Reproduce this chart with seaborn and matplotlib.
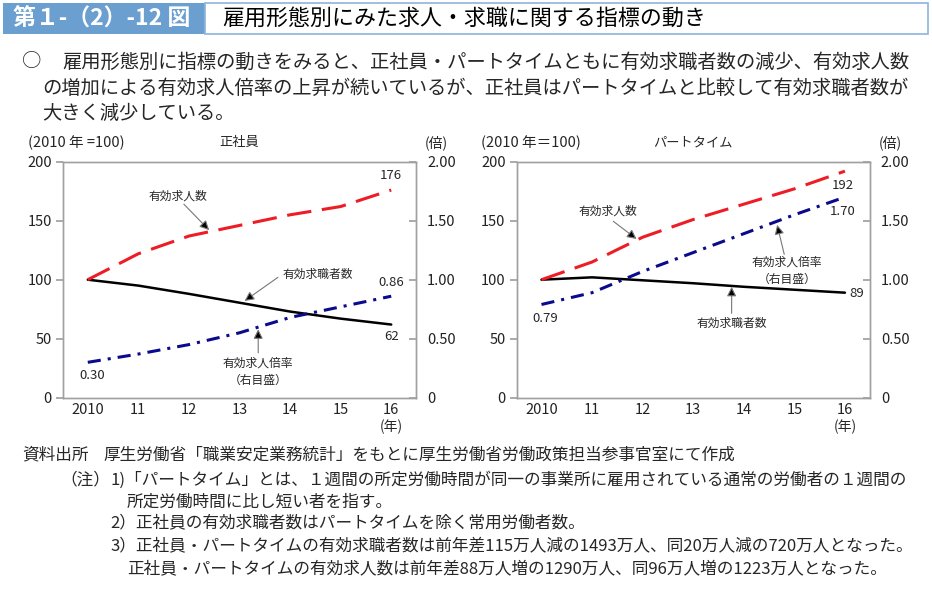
import numpy as np
import pandas as pd
import matplotlib
matplotlib.use("Agg")
import matplotlib.pyplot as plt
import seaborn as sns
from matplotlib.patches import Rectangle

# ---------------- data ----------------
years = [2010, 2011, 2012, 2013, 2014, 2015, 2016]
year_labels = ["2010", "11", "12", "13", "14", "15", "16"]
reg_openings = [100, 122, 137, 146, 155, 162, 176]
reg_seekers = [100, 95, 88, 80.5, 73, 67, 62]
reg_ratio = [0.30, 0.37, 0.45, 0.55, 0.68, 0.77, 0.86]
part_openings = [100, 115, 136, 151, 164, 177, 192]
part_seekers = [100, 102, 99.5, 97, 94, 91.5, 89]
part_ratio = [0.79, 0.89, 1.07, 1.23, 1.39, 1.55, 1.70]
left_ticks = [0, 50, 100, 150, 200]
right_ticks = [0, 0.5, 1.0, 1.5, 2.0]
right_ticklabels = ["0", "0.50", "1.00", "1.50", "2.00"]

RED = "#ee1c25"
BLUE = "#0a0a8c"
GREY = "#a0a0a0"

sns.set_theme(style="ticks")
plt.rcParams['font.family'] = ['Noto Sans CJK JP', 'DejaVu Sans']

W, H = 932, 595
fig = plt.figure(figsize=(W / 100, H / 100), dpi=100)
fig.patch.set_facecolor("white")

# overlay for header / text
ov = fig.add_axes([0, 0, 1, 1])
ov.set_xlim(0, W)
ov.set_ylim(H, 0)
ov.axis("off")

ov.add_patch(Rectangle((3, 3), 202, 31, fc="#6a9fd0", ec="none"))
ov.add_patch(Rectangle((205, 3), 723, 31, fc="white", ec="#8db4dd", lw=1.2))
ov.text(102, 19, "第１-（2）-12 図", color="white", fontsize=16.5, fontweight="bold",
        ha="center", va="center")
ov.text(222, 19, "雇用形態別にみた求人・求職に関する指標の動き", color="black",
        fontsize=15.8, ha="left", va="center")

ov.text(22, 62, "○", fontsize=13.9, ha="left", va="center")
ov.text(62, 62, "雇用形態別に指標の動きをみると、正社員・パートタイムともに有効求職者数の減少、有効求人数",
        fontsize=13.9, ha="left", va="center")
ov.text(42, 88, "の増加による有効求人倍率の上昇が続いているが、正社員はパートタイムと比較して有効求職者数が",
        fontsize=13.9, ha="left", va="center")
ov.text(42, 113, "大きく減少している。", fontsize=13.9, ha="left", va="center")

NFS = 12
ov.text(22, 455, "資料出所", fontsize=NFS, ha="left", va="center")
ov.text(103, 455, "厚生労働省「職業安定業務統計」をもとに厚生労働省労働政策担当参事官室にて作成",
        fontsize=NFS, ha="left", va="center")
ov.text(60, 480, "（注）", fontsize=NFS, ha="left", va="center")
ov.text(110, 480, "1)「パートタイム」とは、１週間の所定労働時間が同一の事業所に雇用されている通常の労働者の１週間の",
        fontsize=NFS, ha="left", va="center")
ov.text(127, 502, "所定労働時間に比し短い者を指す。", fontsize=NFS, ha="left", va="center")
ov.text(110, 524, "2）正社員の有効求職者数はパートタイムを除く常用労働者数。", fontsize=NFS, ha="left", va="center")
ov.text(110, 547, "3）正社員・パートタイムの有効求職者数は前年差115万人減の1493万人、同20万人減の720万人となった。",
        fontsize=NFS, ha="left", va="center")
ov.text(127, 570, "正社員・パートタイムの有効求人数は前年差88万人増の1290万人、同96万人増の1223万人となった。",
        fontsize=NFS, ha="left", va="center")


def arrow(ax, tail, head):
    ax.annotate("", xy=head, xytext=tail,
                arrowprops=dict(arrowstyle="-|>", ec="#777777", fc="black", lw=0.8,
                                mutation_scale=14, shrinkA=0, shrinkB=0), zorder=6)


def panel(left_px, openings, seekers, ratio, title, unit_label):
    ax = fig.add_axes([left_px / W, 1 - 397.7 / H, 353 / W, 236 / H])
    ax2 = ax.twinx()
    df = pd.DataFrame({"year": years, "openings": openings,
                       "seekers": seekers, "ratio": ratio})
    sns.lineplot(data=df, x="year", y="seekers", ax=ax, color="black", lw=1.8)
    sns.lineplot(data=df, x="year", y="openings", ax=ax, color=RED, lw=2.2)
    ax.lines[-1].set_dashes([8, 3.5])
    sns.lineplot(data=df, x="year", y="ratio", ax=ax2, color=BLUE, lw=2.2)
    ax2.lines[-1].set_dashes([4.3, 2.3, 1, 2.3])

    ax.set_xlim(2009.51, 2016.49)
    ax.set_ylim(0, 200)
    ax2.set_ylim(0, 2)
    ax.set_xticks(years, year_labels)
    ax.set_yticks(left_ticks)
    ax2.set_yticks(right_ticks, right_ticklabels)
    ax.set_xlabel("")
    ax.set_ylabel("")
    ax2.set_ylabel("")
    ax.tick_params(axis="x", length=0, labelsize=10.5, pad=4, colors="#222222")
    ax.tick_params(axis="y", direction="out", length=5, color=GREY, labelsize=10.5,
                   pad=3, labelcolor="#222222", left=True)
    ax2.tick_params(axis="y", direction="in", length=5, color=GREY, labelsize=10.5,
                    pad=8, labelcolor="#222222", right=True)
    for a in (ax, ax2):
        for s in a.spines.values():
            s.set_visible(True)
            s.set_color(GREY)
            s.set_linewidth(1.0)

    # header labels above the axes
    ax.text(-0.1, 1.08, unit_label, transform=ax.transAxes, fontsize=10.5,
            ha="left", va="center")
    ax.text(0.5, 1.08, title, transform=ax.transAxes, fontsize=9.5,
            ha="center", va="center")
    ax.text(1.025, 1.08, "(倍)", transform=ax.transAxes, fontsize=10,
            ha="left", va="center")
    ax.text(2016, -25, "(年)", fontsize=10, ha="center", va="center", clip_on=False)
    return ax, ax2


LFS = 8.5
VFS = 9.5
# 正社員
ax, ax2 = panel(63, reg_openings, reg_seekers, reg_ratio, "正社員", "(2010 年 =100)")
ax.text(2011.79, 171, "有効求人数", fontsize=LFS, ha="center", va="center")
arrow(ax, (2011.9, 164), (2012.4, 142))
ax.text(2014.55, 104.5, "有効求職者数", fontsize=LFS, ha="center", va="center")
arrow(ax, (2013.76, 102), (2013.1, 82))
ax.text(2013.37, 29.5, "有効求人倍率", fontsize=LFS, ha="center", va="center")
ax.text(2013.37, 15, "（右目盛）", fontsize=LFS, ha="center", va="center")
arrow(ax, (2013.37, 38), (2013.37, 58))
ax.text(2016, 188, "176", fontsize=VFS, ha="center", va="center")
ax.text(2016, 97.5, "0.86", fontsize=VFS, ha="center", va="center")
ax.text(2016, 51.5, "62", fontsize=VFS, ha="center", va="center")
ax.text(2010.08, 18.5, "0.30", fontsize=VFS, ha="center", va="center")

# パートタイム
bx, bx2 = panel(516.7, part_openings, part_seekers, part_ratio, "パートタイム", "(2010 年＝100)")
bx.text(2011.32, 158, "有効求人数", fontsize=LFS, ha="center", va="center")
arrow(bx, (2011.42, 149.5), (2011.88, 134.5))
bx.text(2014.85, 115, "有効求人倍率", fontsize=LFS, ha="center", va="center")
bx.text(2014.85, 100, "（右目盛）", fontsize=LFS, ha="center", va="center")
arrow(bx, (2014.8, 121.5), (2014.66, 146.5))
bx.text(2013.76, 63, "有効求職者数", fontsize=LFS, ha="center", va="center")
arrow(bx, (2013.76, 71.5), (2013.76, 94))
bx.text(2015.95, 180, "192", fontsize=VFS, ha="center", va="center")
bx.text(2015.95, 158, "1.70", fontsize=VFS, ha="center", va="center")
bx.text(2016.08, 88.6, "89", fontsize=VFS, ha="left", va="center")
bx.text(2010.07, 67, "0.79", fontsize=VFS, ha="center", va="center")

fig.savefig("out.png", dpi=100, facecolor="white")
